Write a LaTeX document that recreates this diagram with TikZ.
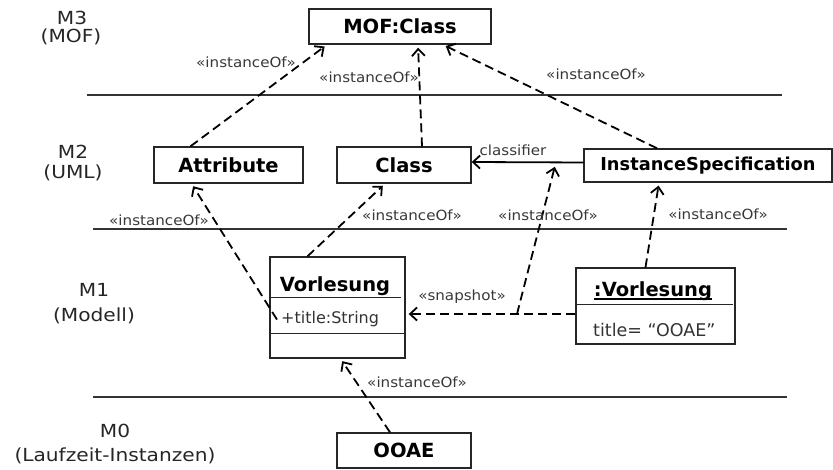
\documentclass[tikz,border=0pt]{standalone}
\usepackage{fontspec}
\setmainfont{DejaVu Sans}
\newfontfamily\levelfont{DejaVu Sans}[FakeStretch=1.12]
\newfontfamily\stereofont{DejaVu Sans}[FakeStretch=1.08]
\usetikzlibrary{arrows.meta}

\begin{document}
\begin{tikzpicture}
  [x=1pt,y=-1pt,
   box/.style={draw=black!85,line width=1.4pt,inner sep=0pt,font=\bfseries\fontsize{19.5}{22}\selectfont},
   level/.style={font=\levelfont\fontsize{18}{21}\selectfont,text=black!85},
   stereo/.style={font=\stereofont\fontsize{14}{16}\selectfont,text=black!78},
   member/.style={inner sep=0pt,text=black!80},
   dep/.style={line width=1.8pt,dash pattern=on 9pt off 5pt,shorten >=3pt,-{Straight Barb[length=7pt,width=13pt]}},
   rule/.style={line width=1.2pt,black!80}]
  \useasboundingbox (0,0) rectangle (833,470);
  % level names
  \node[level] (m3) at (72,18) {M3};
  \node[level] (m3sub) at (71,37) {(MOF)};
  \node[level] (m2) at (73,152) {M2};
  \node[level] (m2sub) at (73,173) {(UML)};
  \node[level] (m1) at (94,290) {M1};
  \node[level] (m1sub) at (94,316) {(Modell)};
  \node[level] (m0) at (115,431) {M0};
  \node[level] (m0sub) at (115,456) {(Laufzeit-Instanzen)};
  %
  \draw[rule] (87,95) -- (782,95);
  \draw[rule] (93,229) -- (787,229);
  \draw[rule] (93,397) -- (787,397);
  %
  \node[box,minimum width=182pt,minimum height=35pt] (mof) at (400,26.5) {MOF:Class};
  \node[box,minimum width=149pt,minimum height=36pt] (attr) at (228.5,165) {Attribute};
  \node[box,minimum width=134pt,minimum height=36pt] (cls) at (404,165) {Class};
  \node[box,minimum width=248pt,minimum height=33pt,font=\bfseries\fontsize{17.8}{21}\selectfont] (inst) at (708,165.5) {InstanceSpecification};
  \node[box,minimum width=135pt,minimum height=101pt] (vorl) at (337.5,307.5) {};
  \node[anchor=base,inner sep=0pt,font=\bfseries\fontsize{19.5}{22}\selectfont] (vorlname) at (335,292) {Vorlesung};
  \node[member,anchor=base west,font=\fontsize{16}{19}\selectfont] (vorlattr) at (281,324) {+title:String};
  \node[box,minimum width=159pt,minimum height=76pt] (obj) at (655.5,306) {};
  \node[anchor=base,inner sep=0pt,font=\bfseries\fontsize{19.5}{22}\selectfont] (objname) at (653,297) {:Vorlesung};
  \node[member,anchor=base west,font=\fontsize{17.5}{20}\selectfont] (objattr) at (593,337) {title= “OOAE”};
  \node[box,minimum width=134pt,minimum height=35pt] (ooae) at (404,450.5) {OOAE};
  %
  \draw[line width=1.4pt,black!85] ([yshift=-41pt]vorl.north west) -- ([xshift=-5pt,yshift=-41pt]vorl.north east);
  \draw[line width=1.4pt,black!85] ([yshift=-77pt]vorl.north west) -- ([yshift=-77pt]vorl.north east);
  \draw[line width=1.4pt,black!85] ([yshift=-37pt]obj.north west) -- ([xshift=-3pt,yshift=-37pt]obj.north east);
  \draw[line width=1.6pt] ([yshift=-2pt]objname.base west) -- ([yshift=-2pt]objname.base east);
  %
  \coordinate (snapjoin) at (517,314);
  \coordinate (clsmid) at (556,162);
  %
  \draw[dep] ([xshift=-38pt]attr.north) -- ([xshift=-73pt]mof.south);
  \draw[dep] ([xshift=18pt]cls.north) -- ([xshift=18pt]mof.south);
  \draw[dep] ([xshift=-51pt]inst.north) -- ([xshift=43pt]mof.south);
  \draw[dep] ([xshift=-4pt]vorlattr.west) -- ([xshift=-37pt]attr.south);
  \draw[dep] ([xshift=-30pt]vorl.north) -- ([xshift=-19pt]cls.south);
  \draw[dep] ([yshift=-8pt]obj.west) -- (vorl.east |- snapjoin);
  \draw[dep,shorten >=5pt] (snapjoin) -- (clsmid);
  \draw[dep] ([xshift=-10pt]obj.north) -- ([xshift=-49pt]inst.south);
  \draw[dep] ([xshift=-14pt]ooae.north) -- ([xshift=3pt]vorl.south);
  \draw[line width=1.8pt,-{Straight Barb[length=7pt,width=13pt]}] ([yshift=3pt]inst.west) -- ([yshift=3pt]cls.east);
  %
  \node[stereo] (io1) at (246,62) {«instanceOf»};
  \node[stereo] (io2) at (369,77) {«instanceOf»};
  \node[stereo] (io3) at (596,74) {«instanceOf»};
  \node[stereo] (io4) at (159,220) {«instanceOf»};
  \node[stereo] (io5) at (412,215) {«instanceOf»};
  \node[stereo] (io6) at (548,215) {«instanceOf»};
  \node[stereo] (io7) at (718,214) {«instanceOf»};
  \node[stereo] (io8) at (417,382) {«instanceOf»};
  \node[stereo] (snap) at (462,297) {«snapshot»};
  \node[stereo] (clsf) at (513,150) {classifier};
\end{tikzpicture}
\end{document}
